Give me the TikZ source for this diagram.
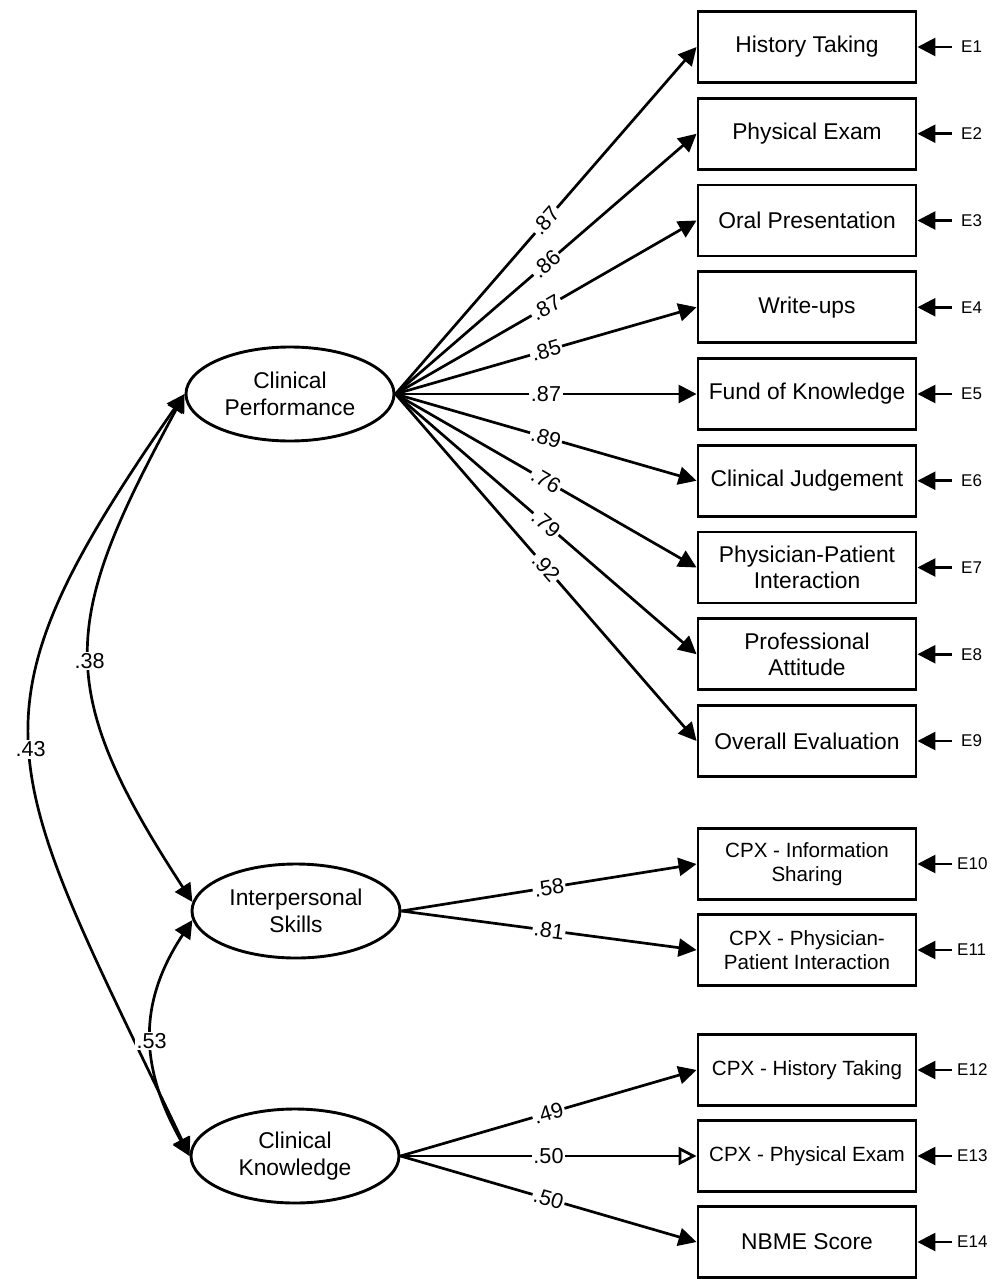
\documentclass[tikz,border=0pt]{standalone}
\usepackage{fontspec}
\setmainfont{Liberation Sans}
\usetikzlibrary{shapes.geometric,arrows.meta}
\begin{document}
\begin{tikzpicture}[x=1pt,y=-1pt,
  obs/.style={draw, line width=2.9pt, minimum width=218pt, minimum height=71pt, inner sep=0pt, align=center, font=\fontsize{22.8}{26.5}\selectfont},
  cpx/.style={obs, font=\fontsize{20.6}{23.5}\selectfont},
  lat/.style={draw, ellipse, line width=2.9pt, minimum width=208pt, minimum height=94pt, inner sep=0pt, align=center, font=\fontsize{22.8}{27.5}\selectfont},
  err/.style={anchor=west, inner xsep=9pt, inner ysep=0pt, font=\fontsize{17}{20}\selectfont},
  errb/.style={err, inner xsep=5pt},
  ld/.style={line width=2.7pt, -{Triangle[length=18pt,width=18pt]}},
  ldo/.style={line width=2.7pt, -{Triangle[open,length=18pt,width=18pt,fill=white]}},
  cov/.style={line width=2.7pt, {Triangle[length=18pt,width=18pt]}-{Triangle[length=18pt,width=18pt]}},
  coef/.style={midway, sloped, fill=white, inner sep=1.5pt, font=\fontsize{21.6}{24}\selectfont},
  ccoef/.style={fill=white, inner sep=1.5pt, font=\fontsize{21.6}{24}\selectfont},
]
\useasboundingbox (0,0) rectangle (996,1279);

% latent variables
\node[lat] (CP) at (290,394) {Clinical\\Performance};
\node[lat] (IS) at (296,911) {Interpersonal\\Skills};
\node[lat] (CK) at (295,1156) {Clinical\\Knowledge};

% observed variables
\node[obs] (B1) at (807,47) {History Taking};
\node[obs] (B2) at (807,133.75) {Physical Exam};
\node[obs] (B3) at (807,220.5) {Oral Presentation};
\node[obs] (B4) at (807,307.25) {Write-ups};
\node[obs] (B5) at (807,394) {Fund of Knowledge};
\node[obs] (B6) at (807,480.75) {Clinical Judgement};
\node[obs] (B7) at (807,567.5) {Physician-Patient\\Interaction};
\node[obs] (B8) at (807,654.25) {Professional\\Attitude};
\node[obs] (B9) at (807,741) {Overall Evaluation};
\node[cpx] (B10) at (807,864) {CPX - Information\\Sharing};
\node[cpx] (B11) at (807,950) {CPX - Physician-\\Patient Interaction};
\node[cpx] (B12) at (807,1070) {CPX - History Taking};
\node[cpx] (B13) at (807,1156) {CPX - Physical Exam};
\node[obs] (B14) at (807,1242) {NBME Score};

% error terms
\foreach \i/\y in {1/47,2/133.75,3/220.5,4/307.25,5/394,6/480.75,7/567.5,8/654.25,9/741}{
  \node[err] (E\i) at (952,\y) {E\i};
  \draw[ld] (E\i.west) -- (B\i.east);
}
\foreach \i/\y in {10/864,11/950,12/1070,13/1156,14/1242}{
  \node[errb] (E\i) at (952,\y) {E\i};
  \draw[ld] (E\i.west) -- (B\i.east);
}

% loadings
\foreach \i in {1,...,9}{\draw[ld] (CP.east) -- (B\i.west);}
\draw[ld] (IS.east) -- (B10.west);
\draw[ld] (IS.east) -- (B11.west);
\draw[ld] (CK.east) -- (B12.west);
\draw[ldo] (CK.east) -- (B13.west);
\draw[ld] (CK.east) -- (B14.west);

% covariances
\draw[cov] (CP.west) .. controls +(-123,227) and +(-141,-216) .. (IS.175)
  node[ccoef, pos=0.52] {.38};
\draw[cov] (CP.west) .. controls +(-228,328) and +(-189,-396) .. (CK.west)
  node[ccoef, pos=0.5] {.43};
\draw[cov] (IS.185) .. controls +(-55.5,84) and +(-49.5,-88) .. (CK.west)
  node[ccoef, pos=0.52] {.53};

% loading labels
\path (CP.east) -- (B1.west) node[coef] {.87};
\path (CP.east) -- (B2.west) node[coef] {.86};
\path (CP.east) -- (B3.west) node[coef] {.87};
\path (CP.east) -- (B4.west) node[coef] {.85};
\path (CP.east) -- (B5.west) node[coef] {.87};
\path (CP.east) -- (B6.west) node[coef] {.89};
\path (CP.east) -- (B7.west) node[coef] {.76};
\path (CP.east) -- (B8.west) node[coef] {.79};
\path (CP.east) -- (B9.west) node[coef] {.92};
\path (IS.east) -- (B10.west) node[coef] {.58};
\path (IS.east) -- (B11.west) node[coef] {.81};
\path (CK.east) -- (B12.west) node[coef] {.49};
\path (CK.east) -- (B13.west) node[coef] {.50};
\path (CK.east) -- (B14.west) node[coef] {.50};
\end{tikzpicture}
\end{document}
